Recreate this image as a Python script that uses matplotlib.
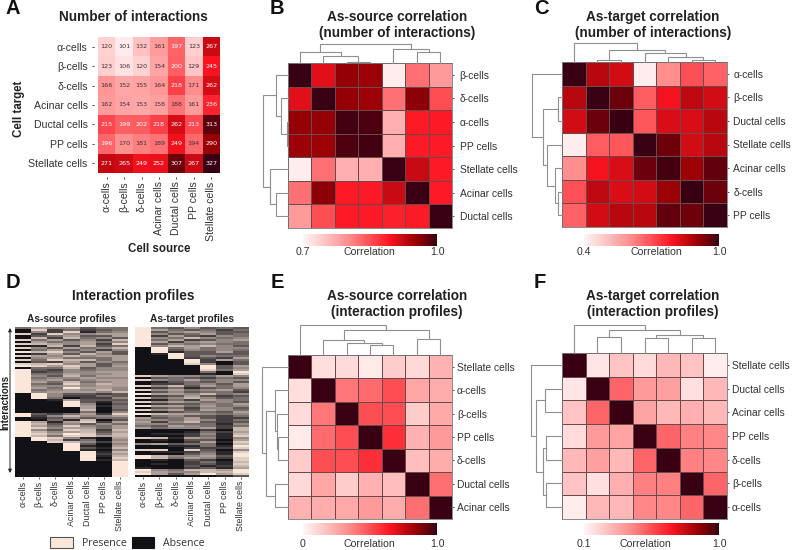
import matplotlib
matplotlib.use("Agg")
import matplotlib.pyplot as plt
import numpy as np
from matplotlib.colors import LinearSegmentedColormap
from matplotlib.patches import Rectangle, FancyArrowPatch

plt.rcParams['font.family'] = ['Liberation Sans', 'DejaVu Sans']

W, H = 795, 550
TXT = '#333333'
DG = '#8f8f8f'

# ---------- data ----------
cells_a = ['α-cells', 'β-cells', 'δ-cells', 'Acinar cells', 'Ductal cells', 'PP cells', 'Stellate cells']
counts = [[120,101,132,161,197,123,267],
          [123,106,120,154,200,129,245],
          [166,152,155,164,218,171,262],
          [162,154,153,158,188,161,236],
          [215,199,202,218,262,213,313],
          [196,170,181,189,249,194,290],
          [271,265,249,252,307,267,327]]

labels_b = ['β-cells','δ-cells','α-cells','PP cells','Stellate cells','Acinar cells','Ductal cells']
corr_b = [[1.00,.91,.955,.95,.71,.825,.79],
          [.91,1.00,.955,.95,.825,.96,.85],
          [.955,.955,.995,.99,.77,.89,.89],
          [.95,.95,.99,.995,.77,.89,.89],
          [.71,.825,.77,.77,1.0,.925,.89],
          [.825,.96,.89,.89,.925,1.0,.89],
          [.79,.85,.89,.89,.885,.89,1.0]]
labels_c = ['α-cells','β-cells','Ductal cells','Stellate cells','Acinar cells','δ-cells','PP cells']
corr_c = [[1,.87,.84,.42,.60,.70,.67],
          [.87,1,.95,.68,.80,.86,.84],
          [.84,.95,1,.69,.83,.83,.87],
          [.42,.68,.69,1,.95,.84,.87],
          [.60,.80,.83,.95,.99,.90,.96],
          [.70,.86,.83,.84,.90,1,.95],
          [.67,.84,.87,.87,.96,.95,1]]
labels_e = ['Stellate cells','α-cells','β-cells','PP cells','δ-cells','Ductal cells','Acinar cells']
corr_e = [[1,.08,.09,.04,.14,.1,.22],
          [.08,1,.4,.43,.5,.26,.24],
          [.09,.4,1,.5,.5,.14,.25],
          [.04,.43,.5,1,.58,.23,.3],
          [.14,.5,.5,.58,1,.18,.24],
          [.1,.26,.14,.23,.18,1,.42],
          [.22,.24,.25,.3,.24,.42,1]]
labels_f = ['Stellate cells','Ductal cells','Acinar cells','PP cells','δ-cells','β-cells','α-cells']
corr_f = [[1,.15,.25,.18,.28,.25,.13],
          [.15,1,.50,.37,.35,.17,.28],
          [.25,.50,1,.34,.28,.31,.28],
          [.18,.37,.34,1,.50,.44,.42],
          [.28,.35,.28,.50,1,.44,.42],
          [.25,.17,.31,.44,.44,1,.50],
          [.13,.28,.28,.42,.42,.50,1]]

tree_b_top = ((0,(1,(2,3,.05),.35),.56),(4,(5,6,.56),.74),1.0)
tree_b_left = ((0,(1,(2,3,.03),.3),.47),(4,(5,6,.49),.73),1.0)
tree_c_top = (0,((1,2,.12),(3,(4,(5,6,.12),.26),.5),.63),1.0)
tree_c_left = (0,((1,2,.13),(3,(4,(5,6,.13),.25),.5),.64),1.0)
tree_e_top = (0,((1,(2,(3,4,.34),.4),.5),(5,6,.52),.82),1.0)
tree_e_left = (0,((1,(2,(3,4,.37),.42),.5),(5,6,.5),.85),1.0)
tree_f_top = (0,((1,2,.57),((3,4,.55),(5,6,.55),.65),.83),1.0)
tree_f_left = (0,((1,2,.55),((3,4,.53),(5,6,.53),.62),.84),1.0)

profile_cols = ['α-cells','β-cells','δ-cells','Acinar cells','Ductal cells','PP cells','Stellate cells']
source_rows = ["4655344","0824234","0528145","8285566","0346336","0727453","8463527","0645645",
"8765628","0172734","8536457","0463525","9785363","0263753","8657566","0564446","8487746","0326354",
"8785635","9868636","0447355","9325455","9235566","9446556","9537466","9455655","9564566","9647456",
"9438576","9556566","9649665","9456575","9566657","0953323","0952243","0940225","0016333","0009314",
"0009503","0009614","0000604","0000703","0000405","9324628","9257556","0135344","0041703","9616826",
"9735354","9648546","9856646","9538727","9756736","9869847","9748867","0985106","0972405","0087526",
"0009305","0009106","0009317","0009105","0000917","0000926","0000917","0000908","0000917","0000009",
"0000009","0000009","0000009","0000009","0000009","0000009","0000009"]
target_rows = ["9435343","9643424","9356533","9534634","9263254","9547545","9462356","9625654","9354544",
"9576753","0946455","0935454","0913363","0193333","0093544","0092326","0009264","0009203","0008503",
"0000936","0000935","0000846","0000409","0000108","8655465","0343243","8546455","0134353","0224536",
"8573646","0241345","8564563","0353442","9665745","0236323","8457534","0142654","8565453","0233546",
"9664645","0342553","8563654","0134436","9766545","0453324","6346322","5546524","6257323","5544415",
"4365424","6455627","0000207","0001426","0112517","0002418","8716515","0103306","0002618","5634407",
"0011419","0002228","8808305","0112418","0003519","9755639","9746528","0103208","0002417","0102318",
"0003127","1002316","9547769","8655779","9636968","0000013"]

# ---------- helpers ----------
cmap = LinearSegmentedColormap.from_list('wr', [(0,'#fff6f6'),(0.35,'#ff8a8a'),(0.65,'#fb1420'),
                                                (0.85,'#960006'),(1,'#380012')])
bin_cmap = LinearSegmentedColormap.from_list('bk', ['#121216', '#fbe6da'])

fig = plt.figure(figsize=(W/100, H/100), dpi=100)

def px_axes(x0, y0, x1, y1):
    return fig.add_axes([x0/W, 1-y1/H, (x1-x0)/W, (y1-y0)/H])

def T(x, y, s, **kw):
    kw.setdefault('ha', 'center'); kw.setdefault('va', 'center'); kw.setdefault('color', TXT)
    return fig.text(x/W, 1-y/H, s, **kw)

def draw_tree(ax, node, horizontal):
    if not isinstance(node, tuple):
        return node+.5, 0.0
    pa, ha = draw_tree(ax, node[0], horizontal)
    pb, hb = draw_tree(ax, node[1], horizontal)
    h = node[2]
    xs, ys = [pa,pa,pb,pb], [ha,h,h,hb]
    if horizontal:
        ax.plot(xs, ys, color=DG, lw=.8, solid_joinstyle='miter', clip_on=False)
    else:
        ax.plot(ys, xs, color=DG, lw=.8, solid_joinstyle='miter', clip_on=False)
    return (pa+pb)/2, h

def cluster_panel(box, top_y, left_x, matrix, labels, vmin, tree_top, tree_left, pad, cbar_x, cbar_y, lab_y, corr_x, vmin_txt):
    x0, y0, x1, y1 = box
    ax = px_axes(x0, y0, x1, y1)
    ax.pcolormesh(np.array(matrix), cmap=cmap, vmin=vmin, vmax=1.0, edgecolors='#6a4a4a', linewidth=.5)
    ax.set_xlim(0,7); ax.set_ylim(7,0)
    ax.set_xticks([])
    ax.set_yticks(np.arange(7)+.5, labels)
    ax.yaxis.tick_right()
    ax.tick_params(axis='y', length=1.5, width=.7, pad=pad, labelsize=7.4, labelcolor=TXT, color='#555555')
    for s in ax.spines.values():
        s.set_linewidth(.6); s.set_color('#777777')
    at = px_axes(x0, top_y, x1, y0)
    draw_tree(at, tree_top, True)
    at.set_xlim(0,7); at.set_ylim(0,1); at.axis('off')
    al = px_axes(left_x, y0, x0, y1)
    draw_tree(al, tree_left, False)
    al.set_xlim(1,0); al.set_ylim(7,0); al.axis('off')
    ac = px_axes(cbar_x[0], cbar_y[0], cbar_x[1], cbar_y[1])
    ac.imshow(np.linspace(0,1,256)[None,:], cmap=cmap, aspect='auto', vmin=0, vmax=1)
    ac.axis('off')
    T(cbar_x[0], lab_y, vmin_txt, fontsize=7.6)
    T(cbar_x[1], lab_y, '1.0', fontsize=7.6)
    T(corr_x, lab_y, 'Correlation', fontsize=7.6)

# ---------- panel A ----------
axA = px_axes(98, 37, 220, 173)
for k, s in axA.spines.items():
    s.set_visible(False)
axA.spines['left'].set_position(('outward', 3))
axA.spines['bottom'].set_position(('outward', 3))
axA.imshow(np.array(counts), cmap=cmap, vmin=92, vmax=327, aspect='auto', extent=(0,7,7,0), interpolation='nearest')
for i, row in enumerate(counts):
    for j, v in enumerate(row):
        axA.text(j+.5, i+.5, str(v), ha='center', va='center', fontsize=4.6,
                 family='DejaVu Sans', color='white' if v >= 195 else '#40303a')
axA.set_xticks(np.arange(7)+.5, cells_a, rotation=90)
axA.set_yticks(np.arange(7)+.5, cells_a)
axA.tick_params(axis='y', length=1.5, width=.7, pad=3, labelsize=7.6, labelcolor=TXT, color='#444444')
axA.tick_params(axis='x', length=1.5, width=.7, pad=1.5, labelsize=7.6, labelcolor=TXT, color='#444444')
T(133, 17, 'Number of interactions', fontsize=9.8, fontweight='bold', color='#222222')
T(19, 109, 'Cell target', fontsize=8.3, fontweight='bold', rotation=90, color='#222222')
T(159, 249, 'Cell source', fontsize=8.3, fontweight='bold', color='#222222')

# ---------- panels B C E F ----------
cluster_panel((288,63,452,228), 44, 263, corr_b, labels_b, .7, tree_b_top, tree_b_left, 4, (303,437), (234,246), 252, 369, '0.7')
cluster_panel((562,62,727,227), 43, 532, corr_c, labels_c, .4, tree_c_top, tree_c_left, 3, (584,719), (234,246), 252, 656, '0.4')
cluster_panel((288,355,452,519), 325, 262, corr_e, labels_e, 0, tree_e_top, tree_e_left, 2, (303,437), (523,535), 544, 369, '0')
cluster_panel((562,353,727,519), 325, 531, corr_f, labels_f, .1, tree_f_top, tree_f_left, 2, (584,719), (523,535), 544, 645, '0.1')
for x, y1, y2, s1, s2 in [(397,17,33,'As-source correlation','(number of interactions)'),
                          (653,17,33,'As-target correlation','(number of interactions)'),
                          (397,296,312,'As-source correlation','(interaction profiles)'),
                          (653,296,312,'As-target correlation','(interaction profiles)')]:
    T(x, y1, s1, fontsize=9.8, fontweight='bold', color='#222222')
    T(x, y2, s2, fontsize=9.8, fontweight='bold', color='#222222')

# ---------- panel D ----------
for (x0, x1), rows, sub in [((15,128), source_rows, 'As-source profiles'), ((135,249), target_rows, 'As-target profiles')]:
    ax = px_axes(x0, 327, x1, 477)
    m = np.array([[int(c) for c in r] for r in rows])
    ax.imshow(m, cmap=bin_cmap, vmin=0, vmax=9, aspect='auto', interpolation='nearest', extent=(0,7,len(rows),0))
    ax.set_xticks(np.arange(7)+.5, profile_cols, rotation=90)
    ax.set_yticks([])
    ax.tick_params(length=1.5, width=.6, pad=1, labelsize=6.4, labelcolor=TXT, color='#444444')
    for k, s in ax.spines.items():
        s.set_visible(False)
    T((x0+x1)/2, 319, sub, fontsize=7.3, fontweight='bold', color='#222222')
T(133, 296, 'Interaction profiles', fontsize=9.8, fontweight='bold', color='#222222')
T(5.5, 402, 'Interactions', fontsize=7, fontweight='bold', rotation=90, color='#222222')
fig.add_artist(FancyArrowPatch((10/W, 1-328/H), (10/W, 1-473/H), transform=fig.transFigure,
                               arrowstyle='<|-|>', mutation_scale=5, lw=.7, color='#222222', shrinkA=0, shrinkB=0))
fig.add_artist(Rectangle((50/W, 1-548/H), 23/W, 11/H, transform=fig.transFigure, fc='#fbe6da', ec='#555555', lw=.8))
fig.add_artist(Rectangle((132/W, 1-548/H), 22/W, 11/H, transform=fig.transFigure, fc='#121216', ec='#121216', lw=.8))
T(82, 543, 'Presence', ha='left', fontsize=7.6, family='Open Sans')
T(163, 543, 'Absence', ha='left', fontsize=7.6, family='Open Sans')

# ---------- panel letters ----------
for s, x, y in [('A',13,9),('B',277,9),('C',541,9),('D',13,283),('E',277,283),('F',540,283)]:
    T(x, y, s, fontsize=14.5, fontweight='bold', color='#111111')

fig.savefig('out.png', dpi=100)
